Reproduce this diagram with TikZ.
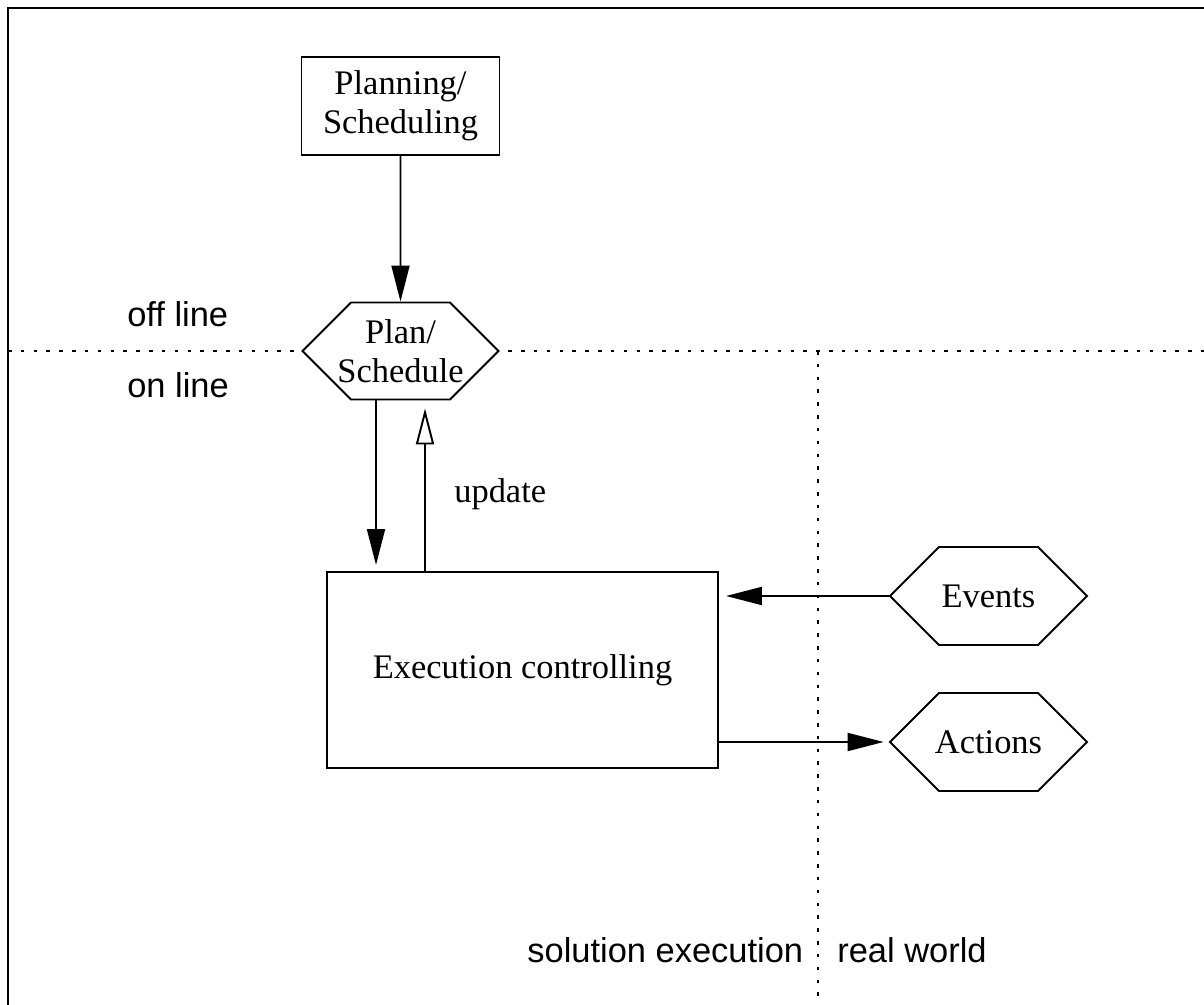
\documentclass[tikz,border=0pt]{standalone}
\usepackage{fontspec}
\setmainfont{Liberation Serif}
\setsansfont{Liberation Sans}
\usetikzlibrary{arrows.meta,
                positioning,
                shapes.symbols
            }

\begin{document}
\begin{tikzpicture}[line width=1.1pt,
        font=\fontsize{19.6}{22.2}\selectfont,
        box/.style={draw, align=center},
        hexa/.style={draw, shape=signal, signal to=east and west, signal pointer angle=90,
                     minimum width=3.94cm, minimum height=1.96cm, inner xsep=-0.3cm, inner ysep=0pt, align=center},
        divider/.style={line width=1pt, dash pattern=on 2pt off 5.3pt},
        tag/.style={font=\sffamily\fontsize{19.6}{22.2}\selectfont},
        >={Triangle[length=0.72cm, width=0.36cm]}]
            \clip (0, 0) rectangle (24.08, 20.1);
            \draw (0.16, 19.94) rectangle (24.5, -0.5);
            % off line / on line and solution / real world
            \draw[divider] (0.16, 13.08) -- (24.5, 13.08);
            \draw[divider] (16.36, 13.08) -- (16.36, -0.5);
            \node[tag, anchor=base west] (offline) at (2.41, 13.56) {off line};
            \node[tag, anchor=base west] (online) at (2.41, 12.14) {on line};
            \node[tag, anchor=base east] (solution) at (16.2, 0.84) {solution execution};
            \node[tag, anchor=base west] (realworld) at (16.61, 0.84) {real world};
            % nodes
            \node[box, minimum width=3.96cm, minimum height=1.96cm] (planning) at (8.01, 17.98) {Planning/\\Scheduling};
            \node[hexa, fill=white, minimum width=3.92cm, minimum height=1.94cm] (plan) at (8.01, 13.08) {Plan/\\Schedule};
            \node[box, minimum width=7.82cm, minimum height=3.92cm] (exec) at (10.45, 6.70) {Execution controlling};
            \node[hexa] (events) at (19.77, 8.18) {Events};
            \node[hexa] (actions) at (19.77, 5.26) {Actions};
            % arrows
            \draw[->] (planning) -- (plan);
            \draw[->, shorten >=0.12cm] (plan.south -| 7.52, 0) -- (exec.north -| 7.52, 0);
            \draw[-{Triangle[open, length=0.72cm, width=0.36cm]}, shorten >=0.16cm] (exec.north -| 8.5, 0) -- (plan.south -| 8.5, 0)
                node[pos=0.45, right=0.45cm] (update) {update};
            \draw[->, shorten >=0.14cm] (events.west) -- (exec.east |- events.west);
            \draw[->, shorten >=0.1cm] (exec.east |- actions.west) -- (actions.west);
        \end{tikzpicture}
\end{document}
